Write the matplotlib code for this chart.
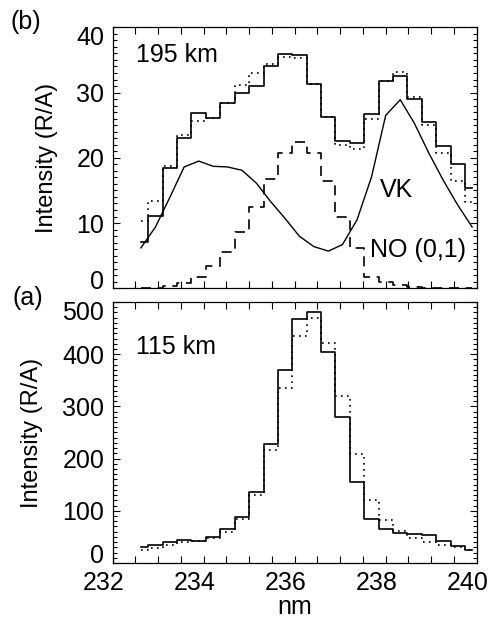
import matplotlib
matplotlib.use("Agg")
import matplotlib.pyplot as plt
import matplotlib.transforms as mtransforms
from matplotlib.ticker import MultipleLocator, FixedLocator

plt.rcParams['font.family'] = ['Liberation Sans', 'DejaVu Sans']

# Wavelength bin centres (nm)
wavelength = [232.62, 232.94, 233.26, 233.57, 233.89, 234.21, 234.52, 234.84,
              235.16, 235.47, 235.79, 236.10, 236.42, 236.74, 237.05, 237.37,
              237.69, 238.00, 238.32, 238.63, 238.95, 239.27, 239.58, 239.90]

# 195 km spectrum (R/A)
measured_195 = [7.1, 11.1, 18.4, 23.0, 26.8, 26.1, 28.4, 30.0,
                31.0, 34.0, 35.9, 35.7, 31.3, 26.2, 22.5, 22.3,
                26.7, 31.8, 32.5, 29.0, 25.5, 21.8, 19.1, 15.4]
modeled_195 = [10.3, 13.4, 18.8, 23.5, 25.6, 26.1, 28.4, 31.1,
               33.0, 34.3, 35.4, 35.3, 31.3, 26.3, 22.0, 21.3,
               25.9, 31.8, 33.1, 29.3, 25.0, 20.8, 16.4, 13.2]
vk_195 = [6.2, 9.4, 14.0, 18.6, 19.5, 18.7, 18.6, 18.1,
          16.1, 13.3, 10.7, 8.0, 6.4, 5.7, 6.7, 10.5,
          17.1, 26.5, 28.9, 25.3, 20.7, 16.5, 12.8, 9.4]
no01_195 = [0.05, 0.1, 0.3, 0.8, 1.7, 3.4, 5.6, 8.7,
            12.5, 16.8, 20.8, 22.4, 20.8, 16.5, 11.0, 6.2,
            1.8, 0.9, 0.5, 0.2, 0.05, 0.0, 0.0, 0.0]

# 115 km spectrum (R/A)
measured_115 = [31.2, 34.5, 39.6, 44.0, 42.8, 50.4, 65.1, 87.5,
                136.6, 228.0, 369.7, 467.0, 481.0, 404.8, 280.3, 154.6,
                84.9, 65.1, 58.1, 56.0, 53.6, 41.5, 32.6, 25.5]
modeled_115 = [24.9, 28.1, 34.5, 40.9, 42.8, 47.2, 60.0, 83.7,
               130.3, 216.5, 334.6, 434.0, 468.7, 422.0, 320.0, 208.2,
               120.7, 82.4, 62.0, 47.2, 40.9, 34.5, 30.0, 24.9]

# Axis ticks
x_ticks = [232, 234, 236, 238, 240]
y_ticks_195 = [0, 10, 20, 30, 40]
y_ticks_115 = [0, 100, 200, 300, 400, 500]

FS = 18
DPI = 100

fig = plt.figure(figsize=(4.93, 6.19), dpi=DPI)
ax_b = fig.add_axes([0.2286, 0.5342, 0.7383, 0.4217])
ax_a = fig.add_axes([0.2286, 0.0905, 0.7383, 0.4216])

dotted = (0, (1, 2.6))
dashed = (0, (6, 4))

# Upper panel: 195 km
ax_b.step(wavelength, measured_195, where='mid', color='k', lw=1.2)
ax_b.step(wavelength, modeled_195, where='mid', color='k', lw=1.2, linestyle=dotted)
ax_b.step(wavelength, no01_195, where='mid', color='k', lw=1.2, linestyle=dashed)
ax_b.plot(wavelength, vk_195, color='k', lw=1.0)
ax_b.set_ylim(0, 40)
ax_b.yaxis.set_major_locator(FixedLocator(y_ticks_195))
ax_b.yaxis.set_minor_locator(MultipleLocator(1))
ax_b.text(0.064, 0.867, '195 km', transform=ax_b.transAxes, fontsize=FS, va='baseline')
ax_b.text(0.734, 0.351, 'VK', transform=ax_b.transAxes, fontsize=FS, va='baseline')
ax_b.text(0.707, 0.121, 'NO (0,1)', transform=ax_b.transAxes, fontsize=FS, va='baseline')
ax_b.tick_params(axis='x', labelbottom=False)

# Lower panel: 115 km
ax_a.step(wavelength, measured_115, where='mid', color='k', lw=1.2)
ax_a.step(wavelength, modeled_115, where='mid', color='k', lw=1.2, linestyle=dotted)
ax_a.set_ylim(0, 500)
ax_a.yaxis.set_major_locator(FixedLocator(y_ticks_115))
ax_a.yaxis.set_minor_locator(MultipleLocator(10))
ax_a.text(0.064, 0.801, '115 km', transform=ax_a.transAxes, fontsize=FS, va='baseline')
ax_a.set_xlabel('nm', fontsize=FS, labelpad=0)

for ax in (ax_a, ax_b):
    ax.set_xlim(232, 240)
    ax.xaxis.set_major_locator(FixedLocator(x_ticks))
    ax.xaxis.set_minor_locator(MultipleLocator(0.5))
    ax.tick_params(which='both', direction='in', top=True, right=True,
                   width=0.8, labelsize=FS, pad=6)
    ax.tick_params(which='major', length=5)
    ax.tick_params(which='minor', length=2.8)
    ax.tick_params(axis='x', which='minor', length=5)
    for sp in ax.spines.values():
        sp.set_linewidth(0.9)
    ax.set_ylabel('Intensity (R/A)', fontsize=17)

ax_b.yaxis.set_label_coords(-0.150, 0.5)
ax_a.yaxis.set_label_coords(-0.1915, 0.5)

fig.canvas.draw()

# Nudge tick labels the way the original plotting package placed them
shift_left = mtransforms.ScaledTranslation(-9 / DPI, 0, fig.dpi_scale_trans)
for lab in ax_a.get_xticklabels():
    lab.set_transform(lab.get_transform() + shift_left)

for ax in (ax_a, ax_b):
    labs = ax.get_yticklabels()
    up = mtransforms.ScaledTranslation(0, 9 / DPI, fig.dpi_scale_trans)
    down = mtransforms.ScaledTranslation(0, -8 / DPI, fig.dpi_scale_trans)
    labs[0].set_transform(labs[0].get_transform() + up)
    labs[-1].set_transform(labs[-1].get_transform() + down)

fig.text(10 / 493, 1 - 29 / 619, '(b)', fontsize=FS, va='baseline')
fig.text(12 / 493, 1 - 305 / 619, '(a)', fontsize=FS, va='baseline')

fig.savefig('out.png', dpi=DPI)
